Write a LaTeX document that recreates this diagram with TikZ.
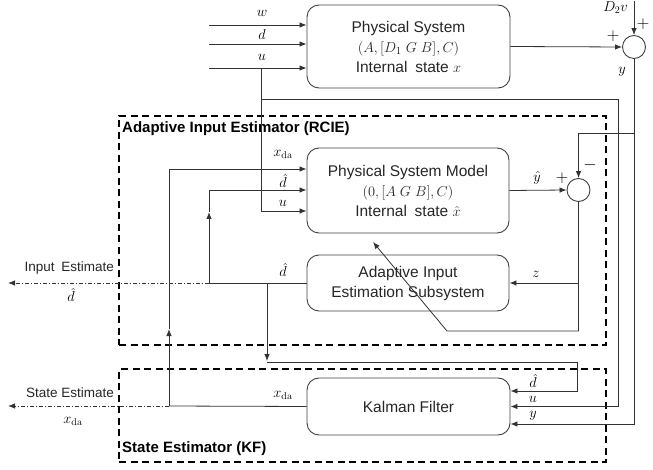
\documentclass[tikz,border=0pt]{standalone}
\usepackage[no-math]{fontspec}
\setmainfont{Liberation Sans}
\usetikzlibrary{arrows.meta}
\begin{document}
\begin{tikzpicture}[x=1pt,y=-1pt,
  ln/.style={draw=black!80, line width=0.8pt},
  arr/.style={ln, -{Latex[length=7pt,width=5.5pt]}},
  blk/.style={draw=black!75, rounded corners=12pt, line width=0.9pt, align=center, inner sep=0pt, font=\fontsize{15.5}{20}\selectfont, text=black!85},
  sumnode/.style={circle, draw=black!75, minimum size=23pt, inner sep=0pt, line width=0.9pt},
  lbl/.style={font=\fontsize{14}{15}\selectfont, inner sep=0pt},
  sgn/.style={font=\fontsize{16}{16}\selectfont, inner sep=0pt},
  dbox/.style={draw=black, dash pattern=on 7pt off 4.5pt, line width=1.6pt, inner sep=0pt},
  ttl/.style={font=\fontsize{15}{17}\selectfont\bfseries, anchor=west, inner sep=0pt},
  dd/.style={ln, dash pattern=on 4pt off 2pt on 1pt off 2pt, -{Latex[length=7pt,width=5.5pt]}},
  side/.style={font=\fontsize{13.5}{15}\selectfont, inner sep=0pt, text=black!85}
]
\useasboundingbox (0,0) rectangle (653,470);

% dashed frames
\node[dbox, minimum width=487pt, minimum height=229pt] (rcie) at (362.5,230.5) {};
\node[dbox, minimum width=487pt, minimum height=93pt] (kfbox) at (362.5,415.5) {};
\node[ttl] (rcieT) at (122,129) {Adaptive Input Estimator (RCIE)};
\node[ttl] (kfT) at (122,449) {State Estimator (KF)};

% blocks
\node[blk, minimum width=203pt, minimum height=83pt] (PS) at (408.5,46.5)
  {Physical System\\ $(A,[D_1\;G\;B],C)$\\ Internal\enspace state $x$};
\node[blk, minimum width=202pt, minimum height=85pt] (PSM) at (408,190.5)
  {Physical System Model\\ $(0,[A\;G\;B],C)$\\ Internal\enspace state $\hat{x}$};
\node[blk, minimum width=202pt, minimum height=56pt] (AIE) at (408,283)
  {Adaptive Input\\ Estimation Subsystem};
\node[blk, minimum width=203pt, minimum height=57pt] (KF) at (408.5,406.5)
  {Kalman Filter};
\node[sumnode] (S1) at (634,47) {};
\node[sumnode] (S2) at (578.5,190) {};

% physical system inputs
\coordinate (win) at (209,25);
\coordinate (din) at (209,44);
\coordinate (uin) at (209,68);
\draw[arr] (win) -- (win -| PS.west);
\draw[arr] (din) -- (din -| PS.west);
\draw[arr] (uin) -- (uin -| PS.west);
\node[lbl] (wl) at (262,13) {$w$};
\node[lbl] (dl) at (262,35) {$d$};
\node[lbl] (ul) at (262,57) {$u$};

% u branches
\coordinate (uj) at (261,68);
\coordinate (uj2) at (261,99);
\coordinate (ur) at (618,99);
\coordinate (pmu) at ([yshift=-20.5pt]PSM.west);
\draw[arr] (uj) -- (uj |- pmu) -- (pmu);
\coordinate (kfu) at (KF.east);
\draw[arr] (uj2) -- (ur) -- (ur |- kfu) -- (kfu);

% plant output and measurement
\coordinate (dv) at (634,1);
\draw[arr] (dv) -- (S1.north);
\node[lbl, anchor=east] (d2v) at (628,8) {$D_2v$};
\node[sgn] (p1) at (643,24) {$+$};
\node[sgn] (p2) at (613,36) {$+$};
\draw[arr] (PS.east) -- (S1.west);
\node[lbl] (yl) at (622,72) {$y$};
\coordinate (kfy) at ([yshift=-17.5pt]KF.east);
\draw[arr] (S1.south) -- (S1.south |- kfy) -- (kfy);
\coordinate (yj) at (634,133);
\draw[arr] (yj) -- (yj -| S2) -- (S2.north);

% model output
\draw[arr] (PSM.east) -- (S2.west);
\node[lbl] (yhl) at (537,178) {$\hat{y}$};
\node[sgn] (p3) at (562,178) {$+$};
\node[sgn] (m1) at (590,165) {$-$};

% residual z
\draw[arr] (S2.south |- AIE.east) -- (AIE.east);
\node[lbl] (zl) at (536,274) {$z$};
\coordinate (zb) at (578.5,331);
\coordinate (zk) at (447,331);
\coordinate (zt) at (373,242);
\draw[arr] (S2.south) -- (zb) -- (zk) -- (zt);

% input estimate
\coordinate (dj) at (209,283);
\coordinate (dj2) at (267,283);
\coordinate (dm) at (209,212);
\coordinate (pmd) at ([yshift=0.5pt]PSM.west);
\draw[ln] (AIE.west) -- (dj);
\draw[arr] (dj) -- (dm);
\draw[arr] (dm) -- (dm |- pmd) -- (pmd);
\node[lbl] (dhl) at (283,270) {$\hat{d}$};
\coordinate (ie) at (8,283);
\draw[dd] (dj) -- (ie);
\node[side, anchor=east] (iet) at (114,268) {Input\enspace Estimate};
\node[lbl] (iel) at (71,295) {$\hat{d}$};
\coordinate (c1) at (267,361);
\coordinate (c1b) at (267,362);
\coordinate (c2) at (577,362);
\coordinate (kfd) at ([yshift=15.5pt]KF.east);
\draw[arr] (dj2) -- (c1);
\draw[arr] (c1b) -- (c2) -- (c2 |- kfd) -- (kfd);

% state estimate
\coordinate (xj) at (169,406);
\coordinate (xm) at (169,329);
\coordinate (pmx) at ([yshift=21.5pt]PSM.west);
\draw[ln] (KF.west) -- (xj);
\draw[arr] (xj) -- (xm);
\draw[arr] (xm) -- (xm |- pmx) -- (pmx);
\node[lbl] (xdl) at (283,395) {$x_{\mathrm{da}}$};
\coordinate (se) at (8,406);
\draw[dd] (xj) -- (se);
\node[side, anchor=east] (set) at (114,393) {State Estimate};
\node[lbl] (sel) at (73,421) {$x_{\mathrm{da}}$};

% model input labels
\node[lbl] (mxl) at (283,154) {$x_{\mathrm{da}}$};
\node[lbl] (mdl) at (283,181) {$\hat{d}$};
\node[lbl] (mul) at (283,203) {$u$};

% Kalman input labels
\node[lbl] (kdl) at (533,381) {$\hat{d}$};
\node[lbl] (kul) at (533,399) {$u$};
\node[lbl] (kyl) at (533,416) {$y$};
\end{tikzpicture}
\end{document}
